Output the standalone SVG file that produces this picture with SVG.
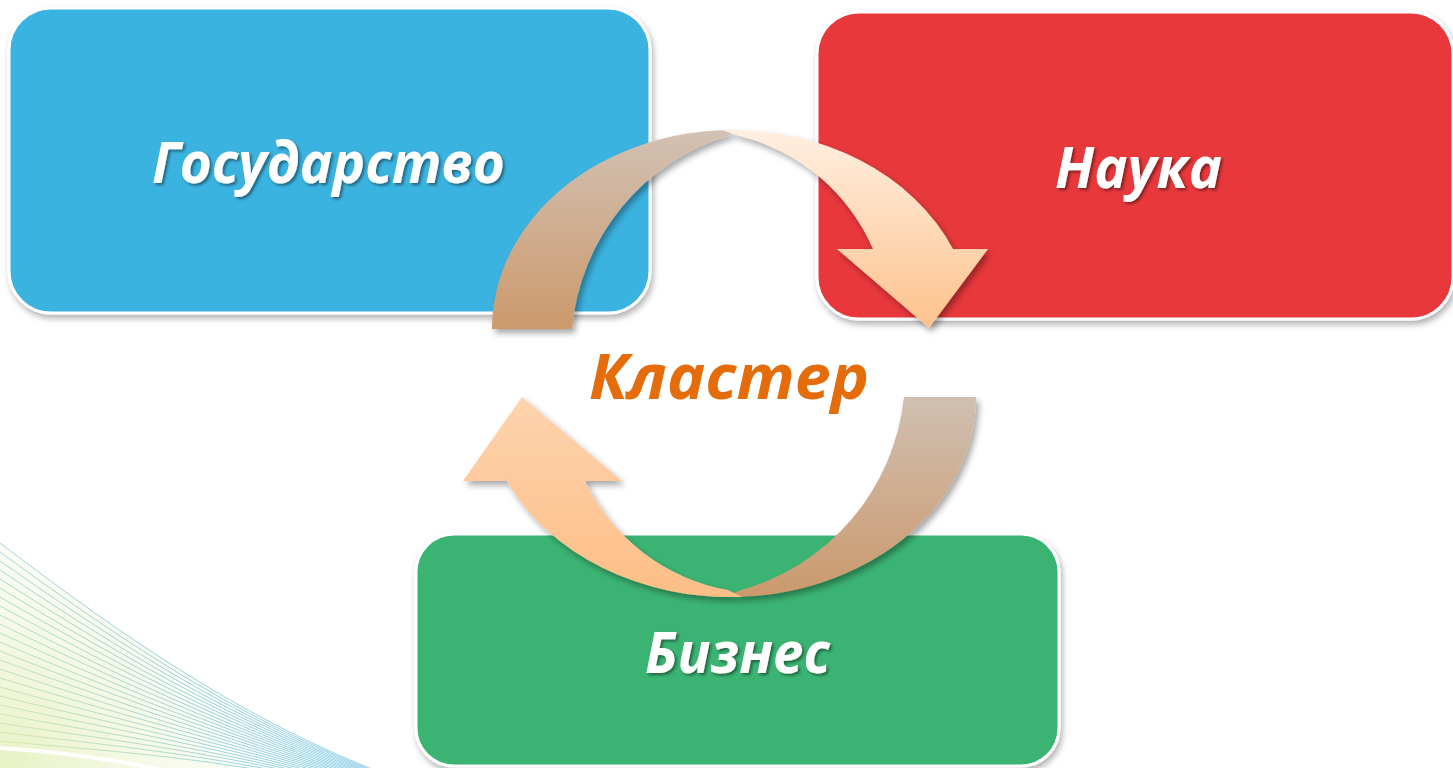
<svg xmlns="http://www.w3.org/2000/svg" width="1453" height="768" viewBox="0 0 1453 768">
  <defs>
    <style>
      .box { stroke: #ffffff; stroke-width: 3; filter: url(#boxShadow); }
      .lbl { font-family: "Open Sans", "DejaVu Sans", sans-serif; font-weight: 700; font-style: italic; font-size: 58px; fill: #ffffff; text-anchor: middle; filter: url(#textShadow); }
      .center { font-family: "Open Sans", "DejaVu Sans", sans-serif; font-weight: 700; font-style: italic; font-size: 62px; fill: #E46C0A; text-anchor: middle; }
      .arrow { filter: url(#arrowShadow); }
      .wave { fill: none; stroke: url(#waveStroke); stroke-width: 1; opacity: 0.8; }
    </style>
    <filter id="boxShadow" x="-5%" y="-5%" width="112%" height="118%">
      <feDropShadow dx="2" dy="4" stdDeviation="3" flood-color="#000000" flood-opacity="0.3"/>
    </filter>
    <filter id="arrowShadow" x="-10%" y="-10%" width="125%" height="125%">
      <feDropShadow dx="3" dy="4" stdDeviation="3" flood-color="#000000" flood-opacity="0.35"/>
    </filter>
    <filter id="textShadow" x="-5%" y="-20%" width="115%" height="150%">
      <feDropShadow dx="2" dy="2" stdDeviation="1.5" flood-color="#000000" flood-opacity="0.45"/>
    </filter>
    <linearGradient id="gTan" gradientUnits="userSpaceOnUse" x1="0" y1="130" x2="0" y2="330">
      <stop offset="0" stop-color="#D2C1B4"/>
      <stop offset="1" stop-color="#CC996B"/>
    </linearGradient>
    <linearGradient id="gPeach" gradientUnits="userSpaceOnUse" x1="0" y1="130" x2="0" y2="330">
      <stop offset="0" stop-color="#FFEFE1"/>
      <stop offset="1" stop-color="#FDC28C"/>
    </linearGradient>
    <linearGradient id="gTan2" gradientUnits="userSpaceOnUse" x1="0" y1="397" x2="0" y2="598">
      <stop offset="0" stop-color="#D0BFB1"/>
      <stop offset="1" stop-color="#CB996C"/>
    </linearGradient>
    <linearGradient id="gPeach2" gradientUnits="userSpaceOnUse" x1="0" y1="397" x2="0" y2="598">
      <stop offset="0" stop-color="#FDD3AE"/>
      <stop offset="1" stop-color="#FDBE86"/>
    </linearGradient>
    <linearGradient id="waveStroke" gradientUnits="userSpaceOnUse" x1="0" y1="740" x2="120" y2="620">
      <stop offset="0" stop-color="#D2E5A0"/>
      <stop offset="1" stop-color="#7EC6E0"/>
    </linearGradient>
    <radialGradient id="glow" gradientUnits="userSpaceOnUse" cx="0" cy="768" r="330">
      <stop offset="0" stop-color="#E4F0BE" stop-opacity="0.9"/>
      <stop offset="1" stop-color="#F4F9E4" stop-opacity="0"/>
    </radialGradient>
  </defs>

  <rect x="0" y="0" width="1453" height="768" fill="#ffffff"/>

  <!-- background wave decoration -->
  <g id="background-waves">
    <path d="M0,543 C120,634 260,735 430,790 L0,790 Z" fill="url(#glow)"/>
    <path class="wave" d="M0,543 C120,634 260,735 430,790"/>
    <path class="wave" d="M0,552 C120,639.4 260,736.1 430,790.9"/>
    <path class="wave" d="M0,561 C120,644.8 260,737.2 430,791.7"/>
    <path class="wave" d="M0,570 C120,650.2 260,738.3 430,792.6"/>
    <path class="wave" d="M0,579 C120,655.6 260,739.3 430,793.5"/>
    <path class="wave" d="M0,588 C120,661 260,740.4 430,794.3"/>
    <path class="wave" d="M0,597 C120,666.3 260,741.5 430,795.2"/>
    <path class="wave" d="M0,606 C120,671.7 260,742.6 430,796.1"/>
    <path class="wave" d="M0,615 C120,677.1 260,743.7 430,797"/>
    <path class="wave" d="M0,624 C120,682.5 260,744.8 430,797.8"/>
    <path class="wave" d="M0,633 C120,687.9 260,745.9 430,798.7"/>
    <path class="wave" d="M0,642 C120,693.3 260,747 430,799.6"/>
    <path class="wave" d="M0,651 C120,698.7 260,748 430,800.4"/>
    <path class="wave" d="M0,660 C120,704.1 260,749.1 430,801.3"/>
    <path class="wave" d="M0,669 C120,709.5 260,750.2 430,802.2"/>
    <path class="wave" d="M0,678 C120,714.9 260,751.3 430,803"/>
    <path class="wave" d="M0,687 C120,720.3 260,752.4 430,803.9"/>
    <path class="wave" d="M0,696 C120,725.7 260,753.5 430,804.8"/>
    <path class="wave" d="M0,705 C120,731 260,754.6 430,805.7"/>
    <path class="wave" d="M0,714 C120,736.4 260,755.7 430,806.5"/>
    <path class="wave" d="M0,723 C120,741.8 260,756.7 430,807.4"/>
    <path class="wave" d="M0,732 C120,747.2 260,757.8 430,808.3"/>
    <path class="wave" d="M0,741 C120,752.6 260,758.9 430,809.1"/>
    <path d="M0,748 C60,752 120,760 170,772" fill="none" stroke="#ffffff" stroke-width="4" opacity="0.9"/>
  </g>

  <!-- nodes -->
  <g id="node-gosudarstvo">
    <rect class="box" x="9" y="8" width="641" height="305" rx="42" ry="42" fill="#3BB3E0"/>
    <text class="lbl" x="328.5" y="183" textLength="353" lengthAdjust="spacingAndGlyphs">Государство</text>
  </g>
  <g id="node-nauka">
    <rect class="box" x="817" y="12" width="636" height="307" rx="42" ry="42" fill="#E8393B"/>
    <text class="lbl" x="1138.5" y="188" textLength="167" lengthAdjust="spacingAndGlyphs">Наука</text>
  </g>
  <g id="node-biznes">
    <rect class="box" x="416" y="534" width="643" height="232" rx="38" ry="38" fill="#3BB473"/>
    <text class="lbl" x="737.5" y="673" textLength="185" lengthAdjust="spacingAndGlyphs">Бизнес</text>
  </g>

  <!-- connectors (circular arrows) -->
  <g id="connectors">
    <g class="arrow">
      <path fill="url(#gTan)" d="M492,329 A241,199 0 0 1 733,130 L730,135 A223.5,223.5 0 0 0 572,329 Z"/>
      <path fill="url(#gPeach)" d="M722,130.2 A241,199 0 0 1 953,249 L988,249 L929,328 L837,249 L873,249 A197.5,197.5 0 0 0 740,136 Z"/>
    </g>
    <g class="arrow">
      <path fill="url(#gTan2)" d="M976,397 A246,200 0 0 1 728,597 L738,591 A225,225 0 0 0 904,397 Z"/>
      <path fill="url(#gPeach2)" d="M742,596.8 A246,200 0 0 1 507,481 L463,481 L522,397 L622,481 L585,481 A197.5,197.5 0 0 0 728,590 Z"/>
    </g>
  </g>

  <g id="node-klaster">
    <text class="center" x="729" y="399" textLength="280" lengthAdjust="spacingAndGlyphs">Кластер</text>
  </g>
</svg>
